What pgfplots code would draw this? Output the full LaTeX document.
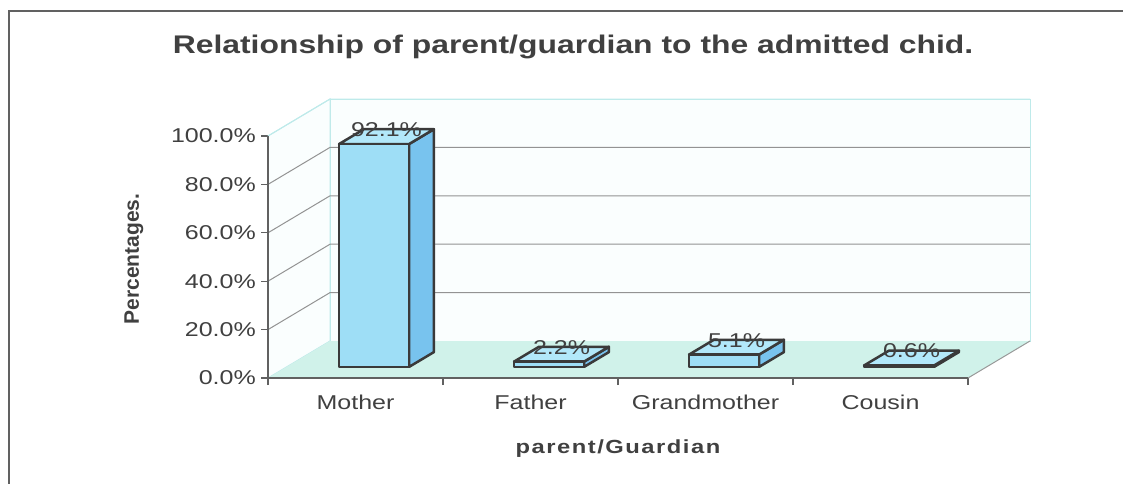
\documentclass[border=0pt]{standalone}
\usepackage{pgfplots}
\pgfplotsset{compat=1.18}
\usepackage{fontspec}
\setmainfont{Liberation Sans}[FakeStretch=1.25]
\newfontfamily\plainfont{Liberation Sans}
\definecolor{barfront}{RGB}{158,222,246}
\definecolor{barside}{RGB}{120,195,238}
\definecolor{bartop}{RGB}{178,232,250}
\definecolor{floorcol}{RGB}{208,242,234}
\definecolor{wallcol}{RGB}{250,254,254}
\definecolor{walledge}{RGB}{190,234,234}
\definecolor{txt}{RGB}{64,64,64}
\definecolor{edge}{RGB}{58,58,58}
\def\Dx{0.3543}
\def\Dy{15.29}
\newcommand{\drawbar}[2]{%
  \pgfmathsetmacro{\xa}{#1-0.2+0.3*\Dx}%
  \pgfmathsetmacro{\xb}{#1+0.2+0.3*\Dx}%
  \pgfmathsetmacro{\ya}{0.3*\Dy}%
  \pgfmathsetmacro{\yb}{0.3*\Dy+#2}%
  \pgfmathsetmacro{\xc}{#1-0.2+0.7*\Dx}%
  \pgfmathsetmacro{\xd}{#1+0.2+0.7*\Dx}%
  \pgfmathsetmacro{\yc}{0.7*\Dy}%
  \pgfmathsetmacro{\yd}{0.7*\Dy+#2}%
  \pgfmathsetmacro{\xm}{#1+0.5*\Dx}%
  \pgfmathsetmacro{\ym}{0.5*\Dy+#2}%
  \edef\tmp{%
    \noexpand\addplot[draw=edge, line width=2.5pt, line join=round, fill=barside] coordinates {(\xb,\ya) (\xd,\yc) (\xd,\yd) (\xb,\yb)} -- cycle;
    \noexpand\addplot[draw=edge, line width=2.5pt, line join=round, fill=bartop] coordinates {(\xa,\yb) (\xb,\yb) (\xd,\yd) (\xc,\yd)} -- cycle;
    \noexpand\addplot[draw=edge, line width=2.5pt, line join=round, fill=barfront] coordinates {(\xa,\ya) (\xb,\ya) (\xb,\yb) (\xa,\yb)} -- cycle;
    \noexpand\node[text=txt, font=\noexpand\fontsize{20}{24}\noexpand\selectfont, anchor=center, yshift=7pt] at (axis cs:\xm,\ym) {#2\noexpand\%};
  }\tmp
}
\begin{document}
\begin{tikzpicture}[x=1pt,y=1pt]
\useasboundingbox (0,0) rectangle (1123,483);
\draw[line width=2.6pt, color=edge!80] (9,-5) -- (9,472) -- (1130,472);
\node[text=txt, font=\fontsize{25.5}{30}\selectfont\bfseries, anchor=base] at (573,429) {Relationship of parent/guardian to the admitted chid.};
\begin{axis}[
  at={(268pt,105pt)}, anchor=south west,
  scale only axis, width=762pt, height=279pt,
  xmin=0, xmax=4.3543, ymin=0, ymax=115.29,
  clip=false,
  axis x line*=bottom, axis y line*=left,
  axis line style={draw=none},
  xtick={0.5,1.5,2.5,3.5},
  xticklabels={Mother,Father,Grandmother,Cousin},
  minor xtick={0,1,2,3,4},
  ytick={0,20,40,60,80,100},
  yticklabel={\pgfmathprintnumber[fixed,fixed zerofill,precision=1]{\tick}\%},
  /pgf/number format/assume math mode=true,
  tick align=outside,
  major x tick style={draw=none},
  minor tick length=7pt, major tick length=7pt,
  tick style={draw=edge!80, line width=1.2pt},
  every tick label/.append style={text=txt, font=\fontsize{20}{24}\selectfont},
  yticklabel style={anchor=east, inner sep=0pt, xshift=-5pt},
  xticklabel style={anchor=north, inner sep=0pt, yshift=-10pt},
  xlabel={\addfontfeatures{LetterSpace=8}parent/Guardian},
  xlabel style={at={(axis cs:2.0,0)}, anchor=center, yshift=-71pt, font=\fontsize{19}{23}\selectfont\bfseries, text=txt},
  ylabel={\plainfont\bfseries Percentages.},
  ylabel style={at={(axis cs:-0.766,49.2)}, anchor=center, font=\fontsize{21}{25}\selectfont, text=txt},
]
% floor
\addplot[draw=none, fill=floorcol] coordinates {(0,0) (4,0) (4.3543,15.29) (0.3543,15.29)} -- cycle;
% back wall
\addplot[draw=walledge, line width=1pt, fill=wallcol] coordinates {(0.3543,15.29) (4.3543,15.29) (4.3543,115.29) (0.3543,115.29)} -- cycle;
% side wall
\addplot[draw=walledge, line width=1pt, fill=wallcol] coordinates {(0,0) (0.3543,15.29) (0.3543,115.29) (0,100)} -- cycle;
% floor fill over wall bottom edge
\addplot[draw=none, fill=floorcol] coordinates {(0,0) (4,0) (4.3543,15.29) (0.3543,15.29)} -- cycle;
% gridlines
\addplot[draw=gray!85, line width=1pt] coordinates {(0,20) (0.3543,35.29) (4.3543,35.29)};
\addplot[draw=gray!85, line width=1pt] coordinates {(0,40) (0.3543,55.29) (4.3543,55.29)};
\addplot[draw=gray!85, line width=1pt] coordinates {(0,60) (0.3543,75.29) (4.3543,75.29)};
\addplot[draw=gray!85, line width=1pt] coordinates {(0,80) (0.3543,95.29) (4.3543,95.29)};
\addplot[draw=walledge, line width=1pt] coordinates {(0,100) (0.3543,115.29) (4.3543,115.29)};
% floor right edge
\addplot[draw=gray!80, line width=1pt] coordinates {(4,0) (4.3543,15.29)};
% front axis lines
\addplot[draw=edge!80, line width=1.3pt] coordinates {(0,100) (0,0) (4,0)};
% bars
\drawbar{0.5}{92.1}
\drawbar{1.5}{2.2}
\drawbar{2.5}{5.1}
\drawbar{3.5}{0.6}
\end{axis}
\end{tikzpicture}
\end{document}
